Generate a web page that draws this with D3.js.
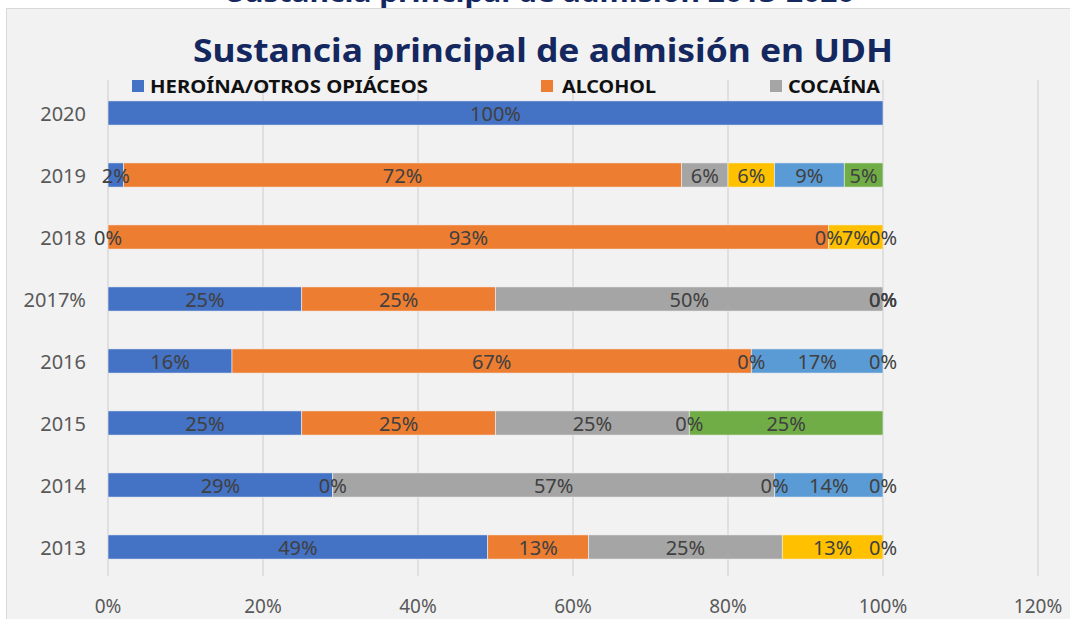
<!DOCTYPE html>
<html>
<head>
<meta charset="utf-8">
<script src="https://cdn.jsdelivr.net/npm/d3@7"></script>
<style>
  body { margin: 0; background: #fff; }
  svg { display: block; }
</style>
</head>
<body>
<svg id="chart" width="1070" height="619"></svg>
<script>
// categories (bottom to top as in the chart) and the tick labels shown
const years = ['2013', '2014', '2015', '2016', '2017', '2018', '2019', '2020']
const yearLabels = ['2013', '2014', '2015', '2016', '2017%', '2018', '2019', '2020']

// percent per substance, null = empty cell (no label)
const heroina  = [49, 29, 25, 16, 25, 0, 2, 100]
const alcohol  = [13, 0, 25, 67, 25, 93, 72, null]
const cocaina  = [25, 57, 25, 0, 50, 0, 6, null]
const amarillo = [13, 0, 0, null, 0, 7, 6, null]
const celeste  = [0, 14, null, 17, 0, 0, 9, null]
const verde    = [null, 0, 25, 0, 0, null, 5, null]

const seriesNames = ['HEROÍNA/OTROS OPIÁCEOS', 'ALCOHOL', 'COCAÍNA', 'S4', 'S5', 'S6']
const seriesVals = [heroina, alcohol, cocaina, amarillo, celeste, verde]
const colors = ['#4472C4', '#ED7D31', '#A5A5A5', '#FFC000', '#5B9BD5', '#70AD47']

const xTicks = [0, 0.2, 0.4, 0.6, 0.8, 1.0, 1.2]

const svg = d3.select('#chart')
const W = 1070, H = 619

// table for d3.stack
const keys = seriesNames.map((n, i) => 'k' + i)
const rows = years.map((y, j) => {
	const r = { year: y }
	keys.forEach((k, i) => { r[k] = seriesVals[i][j] })
	return r
})

const x = d3.scaleLinear().domain([0, 1.2]).range([108, 1038])
const y = d3.scaleBand()
	.domain(years.slice().reverse())
	.range([82, 578])
	.paddingInner(0.61)
	.paddingOuter(0.305)

const stack = d3.stack()
	.keys(keys)
	.value((d, k) => (d[k] || 0) / 100)
const layers = stack(rows)

const navy = '#14285F'
const font = "'Noto Sans', 'Open Sans', sans-serif"

// clipped title of the slide above the chart
svg.append('text')
	.attr('x', 541).attr('y', 2)
	.attr('text-anchor', 'middle')
	.attr('font-family', font)
	.attr('font-weight', 'bold')
	.attr('font-size', 27)
	.attr('fill', navy)
	.attr('textLength', 627)
	.attr('lengthAdjust', 'spacingAndGlyphs')
	.text('Sustancia principal de admisión 2013-2020')

// chart panel
svg.append('rect')
	.attr('x', 6.5).attr('y', 8.5)
	.attr('width', W + 10).attr('height', H)
	.attr('fill', '#F2F2F2')
	.attr('stroke', '#D9D9D9')

// title
svg.append('text')
	.attr('x', 543).attr('y', 62)
	.attr('text-anchor', 'middle')
	.attr('font-family', font)
	.attr('font-weight', 'bold')
	.attr('font-size', 33)
	.attr('fill', navy)
	.attr('textLength', 700)
	.attr('lengthAdjust', 'spacingAndGlyphs')
	.text('Sustancia principal de admisión en UDH')

// gridlines
svg.append('g')
	.selectAll('line')
	.data(xTicks)
	.enter().append('line')
	.attr('x1', d => x(d)).attr('x2', d => x(d))
	.attr('y1', 80).attr('y2', 576)
	.attr('stroke', '#D9D9D9')
	.attr('stroke-width', 1.5)

// legend (only the first three entries fit in the original)
const legendPos = [
	{ sx: 132, tx: 150, w: 278 },
	{ sx: 541, tx: 562, w: 94 },
	{ sx: 770, tx: 788, w: 92 }
]
const legend = svg.append('g')
legendPos.forEach((p, i) => {
	legend.append('rect')
		.attr('x', p.sx).attr('y', 80)
		.attr('width', 12).attr('height', 12)
		.attr('fill', colors[i])
	legend.append('text')
		.attr('x', p.tx).attr('y', 86)
		.attr('dominant-baseline', 'central')
		.attr('font-family', font)
		.attr('font-weight', 'bold')
		.attr('font-size', 17)
		.attr('fill', '#111')
		.attr('textLength', p.w)
		.attr('lengthAdjust', 'spacingAndGlyphs')
		.text(seriesNames[i])
})

// bars
const groups = svg.append('g')
	.selectAll('g')
	.data(layers)
	.enter().append('g')
	.attr('fill', (d, i) => colors[i])

groups.selectAll('rect')
	.data(d => d)
	.enter().append('rect')
	.attr('x', d => x(d[0]))
	.attr('y', d => y(d.data.year))
	.attr('width', d => Math.max(0, x(d[1]) - x(d[0])))
	.attr('height', y.bandwidth())
	.attr('stroke', '#F2F2F2')
	.attr('stroke-width', 0.6)

// data labels
const labels = svg.append('g')
	.attr('font-family', font)
	.attr('font-size', 20)
	.attr('fill', '#404040')
	.attr('text-anchor', 'middle')
layers.forEach((layer, i) => {
	layer.forEach(d => {
		const v = d.data[layer.key]
		if (v === null) return
		labels.append('text')
			.attr('x', x((d[0] + d[1]) / 2))
			.attr('y', y(d.data.year) + y.bandwidth() / 2)
			.attr('dominant-baseline', 'central')
			.text(v + '%')
	})
})

// y axis labels
svg.append('g')
	.selectAll('text')
	.data(years)
	.enter().append('text')
	.attr('x', 86)
	.attr('y', d => y(d) + y.bandwidth() / 2)
	.attr('dominant-baseline', 'central')
	.attr('text-anchor', 'end')
	.attr('font-family', font)
	.attr('font-size', 20)
	.attr('fill', '#595959')
	.text((d, i) => yearLabels[i])

// x axis labels
svg.append('g')
	.selectAll('text')
	.data(xTicks)
	.enter().append('text')
	.attr('x', d => x(d))
	.attr('y', 606)
	.attr('dominant-baseline', 'central')
	.attr('text-anchor', 'middle')
	.attr('font-family', font)
	.attr('font-size', 19)
	.attr('fill', '#595959')
	.text(d => d3.format('.0%')(d))
</script>
</body>
</html>
